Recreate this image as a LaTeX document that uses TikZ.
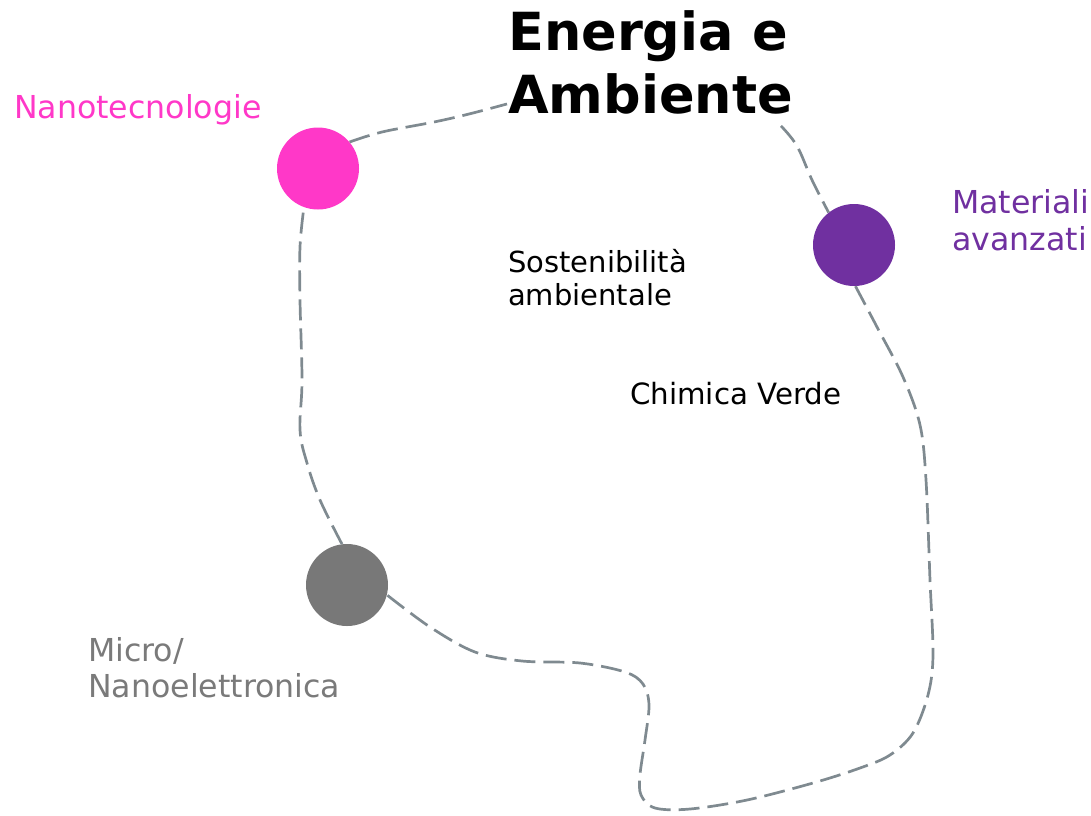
\documentclass[tikz,border=0pt]{standalone}
\usepackage{fontspec}
\setmainfont{DejaVu Sans}
\usetikzlibrary{calc}
\definecolor{pinkc}{HTML}{FF38C8}
\definecolor{purplec}{HTML}{7030A0}
\definecolor{grayc}{HTML}{787878}
\definecolor{graytext}{HTML}{7A7A7A}
\definecolor{linec}{HTML}{7F8A90}
\begin{document}
\begin{tikzpicture}[x=1pt,y=-1pt,
  dot/.style={circle,inner sep=0pt,minimum size=82pt},
  link/.style={draw=linec,line width=2.7pt,dash pattern=on 21pt off 8pt},
  lbl/.style={anchor=base west,inner sep=0pt,align=left}]
\useasboundingbox (0,0) rectangle (1091,815);
\node[dot,fill=pinkc] (nano) at (318,168.5) {};
\node[dot,fill=purplec] (mat) at (854,245) {};
\node[dot,fill=grayc] (micro) at (347,585) {};
\node[lbl,text=pinkc,font=\fontsize{31.6}{36}\selectfont] (nanol) at (14,118) {Nanotecnologie};
\node[lbl,font=\fontsize{52.5}{63}\selectfont\bfseries] (title) at (508,113) {Energia e\\Ambiente};
\node[lbl,font=\fontsize{29}{33}\selectfont] (sost) at (508,305) {Sostenibilità\\ambientale};
\node[lbl,font=\fontsize{29.3}{34}\selectfont] (chim) at (630,404) {Chimica Verde};
\node[lbl,text=purplec,font=\fontsize{31.6}{37}\selectfont] (matl) at (952,250) {Materiali\\avanzati};
\node[lbl,text=graytext,font=\fontsize{31.6}{36}\selectfont] (microl) at (88,697) {Micro/\\Nanoelettronica};
\coordinate (tA) at ($(title.south west)+(-1,-10)$);
\coordinate (tB) at ($(title.south east)+(-12,12)$);
\draw[link] plot[smooth,tension=0.6] coordinates {(nano.40) (382,132) (434,122) (469,114) (tA)};
\draw[link] plot[smooth,tension=0.6] coordinates {(tB) (797,146) (812,180) (mat.128)};
\draw[link] plot[smooth,tension=0.55] coordinates {(mat.272) (877,327) (903,377) (920,425) (926,480) (930,580) (933,655) (928,695) (913,733) (890,755) (860,768) (813,783) (747,800) (690,809) (655,808) (641,795) (640,775) (645,740) (649,705) (643,684) (625,672) (580,663) (522,661) (475,652) (430,627) (micro.346)};
\draw[link] plot[smooth,tension=0.6] coordinates {(micro.97) (320,500) (307,463) (300,430) (302,380) (300,300) (300,247) (nano.250)};
\end{tikzpicture}
\end{document}
